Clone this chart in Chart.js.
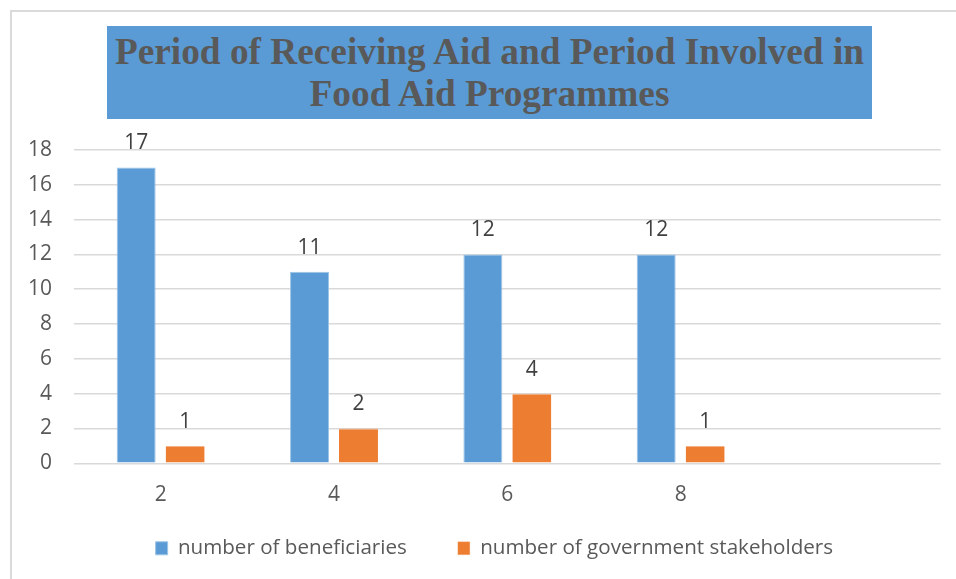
<!DOCTYPE html>
<html>
<head>
<meta charset="utf-8">
<script src="https://cdn.jsdelivr.net/npm/chart.js@4.4.1/dist/chart.umd.min.js"></script>
<style>
  html, body { margin: 0; padding: 0; background: #fff; }
  #wrap { position: relative; width: 956px; height: 579px; overflow: hidden; }
  #frame {
    position: absolute; left: 10px; top: 10px; width: 1200px; height: 800px;
    border-left: 2px solid #dadada; border-top: 2px solid #dadada;
  }
  #title {
    position: absolute; left: 107px; top: 26px; width: 765px; height: 93px;
    background: #5b9bd5; color: #595959; text-align: center;
    font: bold 37.3px "Liberation Serif", "Times New Roman", serif;
    line-height: 42px; white-space: nowrap; box-sizing: border-box; padding-top: 5px;
  }
  #chart { position: absolute; left: 0; top: 0; }
</style>
</head>
<body>
<div id="wrap">
  <div id="frame"></div>
  <div id="title">Period of Receiving Aid and Period Involved in<br>Food Aid Programmes</div>
  <canvas id="chart" width="956" height="579"></canvas>
</div>
<script>
// years (x categories); the last slot is left empty
const periods = ['2', '4', '6', '8', ''];
const beneficiaries = [17, 11, 12, 12];
const stakeholders = [1, 2, 4, 1];
const yTicks = [0, 2, 4, 6, 8, 10, 12, 14, 16, 18];

const BLUE = '#5b9bd5';
const ORANGE = '#ed7d31';
const TEXT = '#595959';
const GRID = '#d9d9d9';
const FONT = { family: 'Open Sans', size: 21 };

// numbers written above each bar
const valueLabels = {
  id: 'valueLabels',
  afterDatasetsDraw(chart) {
    const ctx = chart.ctx;
    ctx.save();
    ctx.font = '21px "Open Sans"';
    ctx.fillStyle = '#404040';
    ctx.textAlign = 'center';
    ctx.textBaseline = 'alphabetic';
    chart.data.datasets.forEach((ds, i) => {
      chart.getDatasetMeta(i).data.forEach((bar, j) => {
        const v = ds.data[j];
        if (v == null) return;
        ctx.fillText(String(v), bar.x, bar.y - 18);
      });
    });
    ctx.restore();
  }
};

// the x axis box is kept short so the legend sits close under it:
// widen its label clip so the tick labels still show, and pull the
// legend row a bit to the left
const layoutTweaks = {
  id: 'layoutTweaks',
  afterLayout(chart) {
    const x = chart.scales.x;
    x.bottom = x.top + 46;
    const lg = chart.legend;
    lg.left -= 13;
    lg.right -= 13;
  }
};

const ctx = document.getElementById('chart').getContext('2d');
new Chart(ctx, {
  type: 'bar',
  data: {
    labels: periods,
    datasets: [
      {
        label: 'number of beneficiaries',
        data: beneficiaries,
        backgroundColor: BLUE,
        borderColor: '#9dc3e6',
        borderWidth: 1
      },
      {
        label: 'number of government stakeholders',
        data: stakeholders,
        backgroundColor: ORANGE,
        borderColor: '#f4b183',
        borderWidth: { top: 1, left: 0, right: 0, bottom: 0 }
      }
    ]
  },
  options: {
    responsive: false,
    animation: false,
    layout: { padding: { top: 150, left: 0, right: 15.3, bottom: 10.4 } },
    datasets: { bar: { categoryPercentage: 0.565, barPercentage: 0.796 } },
    scales: {
      x: {
        grid: { display: false, drawTicks: false },
        border: { display: false },
        ticks: { color: TEXT, font: FONT, padding: 19.5 },
        afterFit(scale) { scale.height = 23.7; }
      },
      y: {
        min: 0,
        max: 18,
        afterBuildTicks(scale) { scale.ticks = yTicks.map(v => ({ value: v })); },
        grid: { color: GRID, lineWidth: 1.5, drawTicks: false },
        border: { display: false },
        ticks: { color: TEXT, font: FONT, padding: 22 },
        afterFit(scale) { scale.width = 74; }
      }
    },
    plugins: {
      legend: {
        position: 'bottom',
        fullSize: false,
        labels: {
          color: TEXT,
          font: { family: 'Open Sans', size: 20.6 },
          boxWidth: 12,
          boxHeight: 13,
          padding: 51
        }
      },
      tooltip: { enabled: false }
    }
  },
  plugins: [valueLabels, layoutTweaks]
});
</script>
</body>
</html>
